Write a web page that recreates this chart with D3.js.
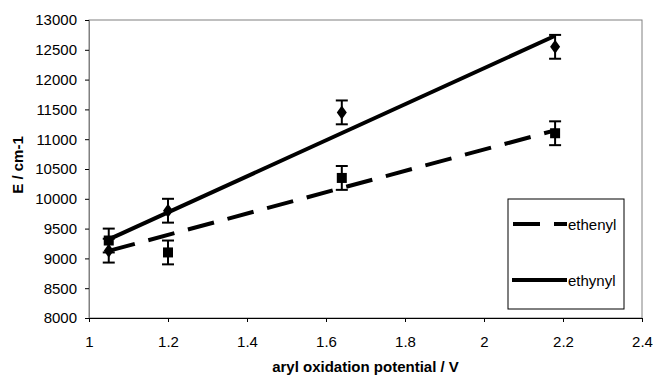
<!DOCTYPE html>
<html>
<head>
<meta charset="utf-8">
<script src="https://cdn.jsdelivr.net/npm/d3@7"></script>
<style>
  body { margin: 0; background: #fff; }
  text { font-family: "Liberation Sans", Arial, sans-serif; }
</style>
</head>
<body>
<div id="chart"></div>
<script>
const potential = [1.05, 1.2, 1.64, 2.18];
const ethenyl = [9300, 9100, 10350, 11100];   // squares, dashed trend
const ethynyl = [9130, 9800, 11450, 12550];   // diamonds, solid trend
const errBar = 200;
const xTicks = [1, 1.2, 1.4, 1.6, 1.8, 2, 2.2, 2.4];
const yTicks = [8000, 8500, 9000, 9500, 10000, 10500, 11000, 11500, 12000, 12500, 13000];

const W = 653, H = 375;
const margin = { top: 20, right: 11, bottom: 57, left: 89 },
      width = W - margin.left - margin.right,
      height = H - margin.top - margin.bottom;

const svg = d3.select("#chart").append("svg")
  .attr("width", W).attr("height", H);

const g = svg.append("g")
  .attr("transform", `translate(${margin.left},${margin.top})`);

const x = d3.scaleLinear().domain([1, 2.4]).range([0, width]);
const y = d3.scaleLinear().domain([8000, 13000]).range([height, 0]);

// plot area frame
g.append("rect")
  .attr("width", width).attr("height", height)
  .attr("fill", "none").attr("stroke", "#808080").attr("stroke-width", 1);

// axes
const yAxis = g.append("g")
  .call(d3.axisLeft(y).tickValues(yTicks).tickSize(4).tickPadding(8).tickFormat(d3.format("d")));
yAxis.select(".domain").attr("stroke", "#808080");
yAxis.selectAll("text").attr("font-size", 15).attr("fill", "#000");

const xAxis = g.append("g")
  .attr("transform", `translate(0,${height})`)
  .call(d3.axisBottom(x).tickValues(xTicks).tickSize(4).tickPadding(14).tickFormat(d => d3.format("")(d)));
xAxis.select(".domain").attr("stroke", "#000");
xAxis.selectAll("text").attr("font-size", 15).attr("fill", "#000");

// axis titles
svg.append("text")
  .attr("x", margin.left + x(1.7)).attr("y", 372)
  .attr("text-anchor", "middle").attr("font-size", 15).attr("font-weight", "bold")
  .text("aryl oxidation potential / V");

svg.append("text")
  .attr("transform", `translate(23,165) rotate(-90)`)
  .attr("text-anchor", "middle").attr("font-size", 15).attr("font-weight", "bold")
  .text("E / cm-1");

// least squares trend lines
function fit(xs, ys) {
  const mx = d3.mean(xs), my = d3.mean(ys);
  const sxy = d3.sum(xs, (v, i) => (v - mx) * (ys[i] - my));
  const sxx = d3.sum(xs, v => (v - mx) * (v - mx));
  const b = sxy / sxx;
  return v => my + b * (v - mx);
}

function trend(vals, dash) {
  const f = fit(potential, vals);
  const ends = d3.extent(potential);
  g.append("line")
    .attr("x1", x(ends[0])).attr("y1", y(f(ends[0])))
    .attr("x2", x(ends[1])).attr("y2", y(f(ends[1])))
    .attr("stroke", "#000").attr("stroke-width", 4)
    .attr("stroke-dasharray", dash);
}

trend(ethenyl, "27 14");
trend(ethynyl, null);

// error bars
function errors(vals) {
  const eb = g.append("g").attr("stroke", "#000").attr("stroke-width", 2);
  vals.forEach((v, i) => {
    const cx = x(potential[i]);
    eb.append("line").attr("x1", cx).attr("x2", cx).attr("y1", y(v - errBar)).attr("y2", y(v + errBar));
    eb.append("line").attr("x1", cx - 6).attr("x2", cx + 6).attr("y1", y(v - errBar)).attr("y2", y(v - errBar));
    eb.append("line").attr("x1", cx - 6).attr("x2", cx + 6).attr("y1", y(v + errBar)).attr("y2", y(v + errBar));
  });
}
errors(ethenyl);
errors(ethynyl);

// markers
g.selectAll("rect.sq")
  .data(ethenyl)
  .enter().append("rect")
  .attr("class", "sq")
  .attr("x", (d, i) => x(potential[i]) - 5)
  .attr("y", d => y(d) - 5)
  .attr("width", 10).attr("height", 10)
  .attr("fill", "#000");

g.selectAll("path.dia")
  .data(ethynyl)
  .enter().append("path")
  .attr("class", "dia")
  .attr("d", (d, i) => {
    const cx = x(potential[i]), cy = y(d);
    return `M${cx},${cy - 7}L${cx + 5},${cy}L${cx},${cy + 7}L${cx - 5},${cy}Z`;
  })
  .attr("fill", "#000");

// legend
const lg = svg.append("g");
lg.append("rect")
  .attr("x", 508).attr("y", 199).attr("width", 116).attr("height", 110)
  .attr("fill", "#fff").attr("stroke", "#000").attr("stroke-width", 1);

lg.append("line")
  .attr("x1", 513).attr("x2", 567).attr("y1", 224).attr("y2", 224)
  .attr("stroke", "#000").attr("stroke-width", 4).attr("stroke-dasharray", "27 14");
lg.append("text").attr("x", 568).attr("y", 230).attr("font-size", 15).text("ethenyl");

lg.append("line")
  .attr("x1", 512).attr("x2", 567).attr("y1", 280).attr("y2", 280)
  .attr("stroke", "#000").attr("stroke-width", 4);
lg.append("text").attr("x", 568).attr("y", 286).attr("font-size", 15).text("ethynyl");
</script>
</body>
</html>
